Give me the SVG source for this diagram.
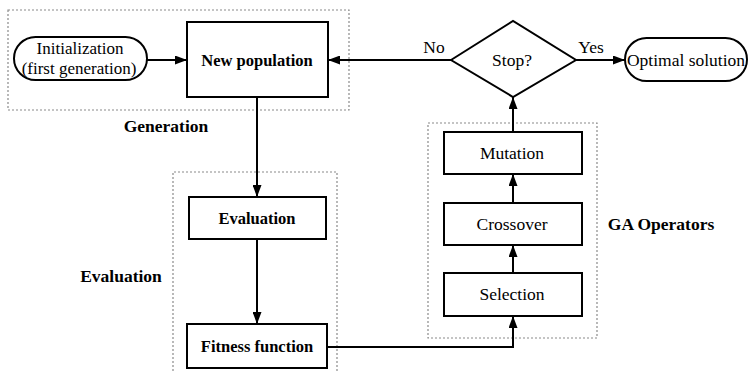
<svg xmlns="http://www.w3.org/2000/svg" width="750" height="373" viewBox="0 0 750 373" font-family="'Liberation Serif', 'Times New Roman', Tinos, 'DejaVu Serif', serif">
<style>
.box{fill:#fff;stroke:#000;stroke-width:2}
.grp{fill:none;stroke:#8a8a8a;stroke-width:1.2;stroke-dasharray:2 2}
text{fill:#000;text-anchor:middle}
.t{font-size:17.5px}
.ts{font-size:17px}
.tb{font-size:16.5px;font-weight:bold}
.lbl{font-size:17.5px;font-weight:bold}
.c{fill:none;stroke:#000;stroke-width:2;marker-end:url(#ah)}
</style>
<defs>
<marker id="ah" markerUnits="userSpaceOnUse" markerWidth="13" markerHeight="9" refX="12" refY="4.5" orient="auto">
<path d="M0,0 L12,4.5 L0,9 z" fill="#000"/>
</marker>
</defs>
<rect width="750" height="373" fill="#fff"/>
<g id="groups">
<rect class="grp" x="8" y="10" width="341" height="100"/>
<path class="grp" d="M173,375 V172 H337 V375"/>
<rect class="grp" x="428" y="123" width="169" height="215"/>
<text class="lbl" x="166" y="132">Generation</text>
<text class="lbl" x="121" y="282">Evaluation</text>
<text class="lbl" x="661" y="230">GA Operators</text>
</g>
<g id="connectors">
<line class="c" x1="147" y1="60" x2="187" y2="60"/>
<line class="c" x1="451" y1="60" x2="328" y2="60"/>
<line class="c" x1="576" y1="60" x2="625" y2="60"/>
<line class="c" x1="257" y1="97" x2="257" y2="197"/>
<line class="c" x1="257" y1="239" x2="257" y2="324"/>
<polyline class="c" points="327,347 513,347 513,316"/>
<line class="c" x1="513" y1="273" x2="513" y2="245"/>
<line class="c" x1="513" y1="203" x2="513" y2="174"/>
<line class="c" x1="513" y1="132" x2="513" y2="97"/>
<text class="t" x="434" y="53">No</text>
<text class="t" x="591" y="53">Yes</text>
</g>
<g id="init">
<rect class="box" x="14" y="37" width="133" height="43" rx="21.5"/>
<text class="ts" x="80" y="54">Initialization</text>
<text class="ts" x="79" y="74">(first generation)</text>
</g>
<g id="newpop">
<rect class="box" x="187" y="22" width="141" height="75"/>
<text class="tb" x="257" y="66">New population</text>
</g>
<g id="stop">
<polygon class="box" points="451,60 513,21 576,60 513,97"/>
<text class="t" x="512" y="66">Stop?</text>
</g>
<g id="optimal">
<rect class="box" x="625" y="38" width="122" height="43" rx="21.5"/>
<text class="t" x="686" y="66">Optimal solution</text>
</g>
<g id="evaluation">
<rect class="box" x="189" y="197" width="137" height="42"/>
<text class="tb" x="257" y="224">Evaluation</text>
</g>
<g id="fitness">
<rect class="box" x="187" y="324" width="140" height="44"/>
<text class="tb" x="257" y="352">Fitness function</text>
</g>
<g id="mutation">
<rect class="box" x="444" y="132" width="138" height="42"/>
<text class="t" x="512" y="159">Mutation</text>
</g>
<g id="crossover">
<rect class="box" x="444" y="203" width="138" height="42"/>
<text class="t" x="512" y="230">Crossover</text>
</g>
<g id="selection">
<rect class="box" x="444" y="273" width="138" height="43"/>
<text class="t" x="512" y="300">Selection</text>
</g>
</svg>
